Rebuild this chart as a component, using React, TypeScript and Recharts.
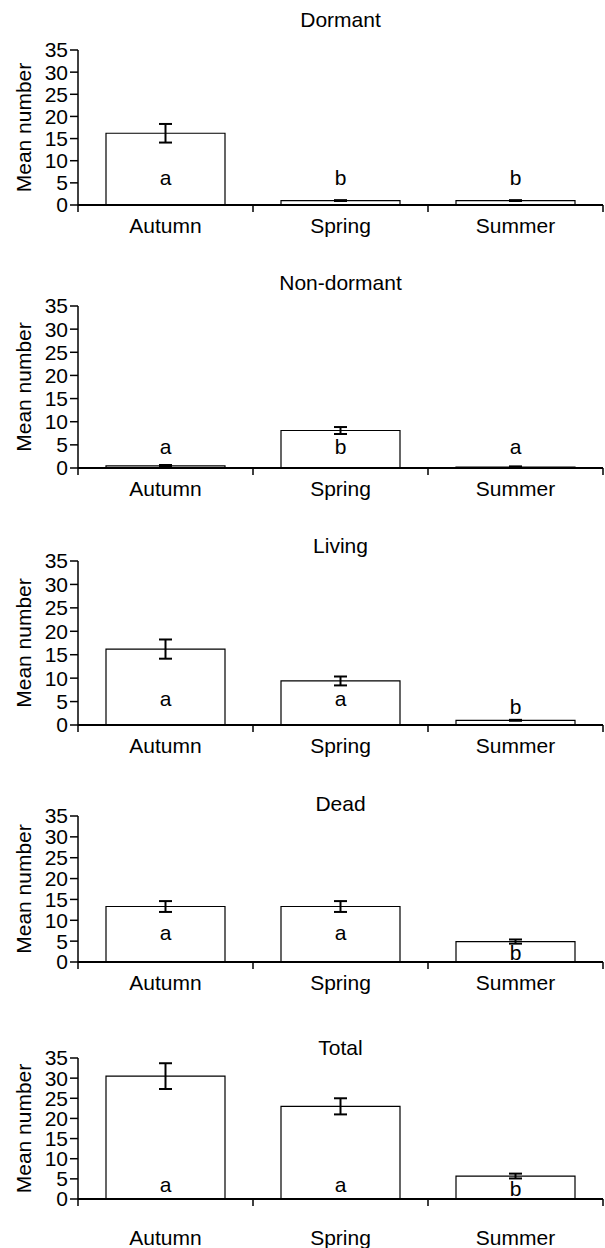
import { ComposedChart, Bar, ErrorBar, Scatter, XAxis, YAxis } from 'recharts';

const seasons = ['Autumn', 'Spring', 'Summer'];
const yTicks = [0, 5, 10, 15, 20, 25, 30, 35];

const dormantMean = [16.2, 1.0, 1.0];
const dormantSE = [2.1, 0.1, 0.1];
const dormantLetters = ['a', 'b', 'b'];
const dormantLetterY = [4.5, 4.5, 4.5];

const nonDormantMean = [0.45, 8.1, 0.2];
const nonDormantSE = [0.2, 0.75, 0.15];
const nonDormantLetters = ['a', 'b', 'a'];
const nonDormantLetterY = [3.1, 3.1, 3.1];

const livingMean = [16.2, 9.4, 1.0];
const livingSE = [2.05, 0.95, 0.1];
const livingLetters = ['a', 'a', 'b'];
const livingLetterY = [4.0, 4.0, 2.4];

const deadMean = [13.3, 13.3, 4.9];
const deadSE = [1.3, 1.3, 0.5];
const deadLetters = ['a', 'a', 'b'];
const deadLetterY = [5.2, 5.2, 0.4];

const totalMean = [30.5, 23.0, 5.7];
const totalSE = [3.2, 2.0, 0.6];
const totalLetters = ['a', 'a', 'b'];
const totalLetterY = [1.7, 1.7, 0.8];

const panels = [
  { title: 'Dormant', mean: dormantMean, se: dormantSE, letters: dormantLetters, letterY: dormantLetterY },
  { title: 'Non-dormant', mean: nonDormantMean, se: nonDormantSE, letters: nonDormantLetters, letterY: nonDormantLetterY },
  { title: 'Living', mean: livingMean, se: livingSE, letters: livingLetters, letterY: livingLetterY },
  { title: 'Dead', mean: deadMean, se: deadSE, letters: deadLetters, letterY: deadLetterY },
  { title: 'Total', mean: totalMean, se: totalSE, letters: totalLetters, letterY: totalLetterY },
];

// page layout: y of the 35 tick, y of the zero line, title centre, gap down to season labels
const layout = [
  { top: 50, zero: 205, title: 20, gap: 13 },
  { top: 306, zero: 468, title: 283, gap: 13 },
  { top: 561, zero: 725, title: 546, gap: 13 },
  { top: 816, zero: 962, title: 804, gap: 13 },
  { top: 1058, zero: 1199, title: 1048, gap: 31 },
];

const FONT = 'Arial, "Liberation Sans", Helvetica, sans-serif';
const FS = 21;
const W = 605;
const AXIS_X = 78;
const RIGHT = 2;
const PAD_TOP = 14;
const AXIS_H = 49;

function SeasonTick(props: any) {
  const { x, y, payload, index, lift } = props;
  const half = payload.offset || (W - AXIS_X - RIGHT) / 6;
  const y0 = y - lift;
  return (
    <g>
      <line x1={x - half} x2={x - half} y1={y0} y2={y0 + 7} stroke="#000" strokeWidth={1.5} />
      {index === seasons.length - 1 && (
        <line x1={x + half} x2={x + half} y1={y0} y2={y0 + 7} stroke="#000" strokeWidth={1.5} />
      )}
      <text x={x} y={y} dy="0.71em" textAnchor="middle" fontSize={FS} fontFamily={FONT} fill="#000">
        {payload.value}
      </text>
    </g>
  );
}

function YLabel(props: any) {
  const vb = props.viewBox;
  const cx = 24;
  const cy = vb.y + vb.height / 2;
  return (
    <text
      x={cx}
      y={cy}
      dy="0.355em"
      transform={`rotate(-90 ${cx} ${cy})`}
      textAnchor="middle"
      fontSize={FS}
      fontFamily={FONT}
      fill="#000"
    >
      Mean number
    </text>
  );
}

function LetterShape(props: any) {
  return (
    <text x={props.cx} y={props.cy} textAnchor="middle" fontSize={FS} fontFamily={FONT} fill="#000">
      {props.payload.letter}
    </text>
  );
}

function Panel({ p, l }: { p: any; l: any }) {
  const rows = seasons.map((s, i) => ({
    season: s,
    mean: p.mean[i],
    se: p.se[i],
    letter: p.letters[i],
    letterY: p.letterY[i],
  }));
  const H = PAD_TOP + (l.zero - l.top) + AXIS_H;
  return (
    <div style={{ position: 'absolute', left: 0, top: l.top - PAD_TOP, width: W, height: H }}>
      <ComposedChart
        width={W}
        height={H}
        data={rows}
        margin={{ top: PAD_TOP, right: RIGHT, bottom: 0, left: 0 }}
        barCategoryGap="16%"
      >
        <XAxis
          dataKey="season"
          height={AXIS_H}
          interval={0}
          tickLine={false}
          tickSize={0}
          tickMargin={l.gap}
          axisLine={{ stroke: '#000', strokeWidth: 1.8 }}
          tick={<SeasonTick lift={l.gap} />}
        />
        <YAxis
          width={AXIS_X}
          domain={[0, 35]}
          ticks={yTicks}
          interval={0}
          tickSize={8}
          tickMargin={2}
          tickLine={{ stroke: '#000', strokeWidth: 1.5 }}
          axisLine={{ stroke: '#000', strokeWidth: 1.5 }}
          tick={{ fill: '#000', fontSize: FS, fontFamily: FONT }}
          label={<YLabel />}
        />
        <Bar dataKey="mean" fill="#fff" stroke="#000" strokeWidth={1.2} isAnimationActive={false}>
          <ErrorBar dataKey="se" width={6.5} stroke="#000" strokeWidth={2} />
        </Bar>
        <Scatter dataKey="letterY" shape={LetterShape} isAnimationActive={false} />
      </ComposedChart>
    </div>
  );
}

export default function App() {
  return (
    <div style={{ position: 'absolute', left: 0, top: 0, width: W, height: 1248, background: '#fff', overflow: 'hidden' }}>
      {panels.map((p, i) => (
        <Panel key={p.title} p={p} l={layout[i]} />
      ))}
      <svg width={W} height={1248} style={{ position: 'absolute', left: 0, top: 0, pointerEvents: 'none' }}>
        {panels.map((p, i) => (
          <text
            key={p.title}
            x={(AXIS_X + W - RIGHT) / 2}
            y={layout[i].title}
            dy="0.355em"
            textAnchor="middle"
            fontSize={FS}
            fontFamily={FONT}
            fill="#000"
          >
            {p.title}
          </text>
        ))}
      </svg>
    </div>
  );
}
